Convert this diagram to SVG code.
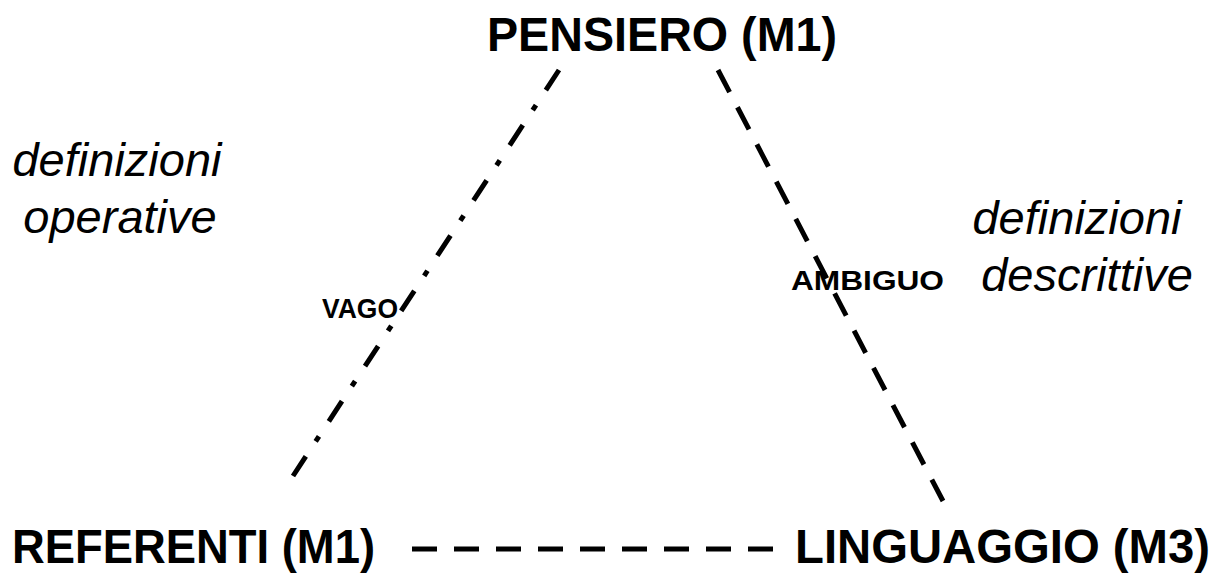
<svg xmlns="http://www.w3.org/2000/svg" width="1219" height="575" viewBox="0 0 1219 575">
  <style>
    .node { font-family: "Liberation Sans", Arial, sans-serif; font-weight: bold; font-size: 48px; fill: #000; }
    .note { font-family: "Liberation Sans", Arial, sans-serif; font-style: italic; font-size: 47px; fill: #000; text-anchor: middle; }
    .tag  { font-family: "Liberation Sans", Arial, sans-serif; font-weight: bold; font-size: 28px; fill: #000; }
    .edge { stroke: #000; stroke-width: 5; fill: none; stroke-linecap: butt; }
    .dash { stroke-dasharray: 25 17; }
    .dashdot { stroke-dasharray: 24 18 6 18; }
  </style>
  <rect width="1219" height="575" fill="#fff"/>

  <!-- connectors -->
  <g id="connectors">
    <line id="pensiero-referenti" class="edge dashdot" x1="559" y1="70" x2="293" y2="476"/>
    <line id="pensiero-linguaggio" class="edge dash" x1="718" y1="70" x2="943" y2="501"/>
    <line id="referenti-linguaggio" class="edge dash" x1="412" y1="549" x2="779" y2="549"/>
  </g>

  <!-- edge labels -->
  <text class="tag" x="322" y="318" textLength="76" lengthAdjust="spacingAndGlyphs">VAGO</text>
  <text class="tag" x="791" y="290" textLength="153" lengthAdjust="spacingAndGlyphs">AMBIGUO</text>

  <!-- nodes -->
  <g id="node-pensiero">
    <text class="node" x="487" y="51" textLength="350" lengthAdjust="spacingAndGlyphs">PENSIERO (M1)</text>
  </g>
  <g id="node-referenti">
    <text class="node" x="12" y="563" textLength="363" lengthAdjust="spacingAndGlyphs">REFERENTI (M1)</text>
  </g>
  <g id="node-linguaggio">
    <text class="node" x="795" y="563" textLength="415" lengthAdjust="spacingAndGlyphs">LINGUAGGIO (M3)</text>
  </g>

  <!-- side notes -->
  <g id="note-operative">
    <text class="note" x="117" y="176">definizioni</text>
    <text class="note" x="120" y="233">operative</text>
  </g>
  <g id="note-descrittive">
    <text class="note" x="1077" y="234">definizioni</text>
    <text class="note" x="1087" y="291">descrittive</text>
  </g>
</svg>
